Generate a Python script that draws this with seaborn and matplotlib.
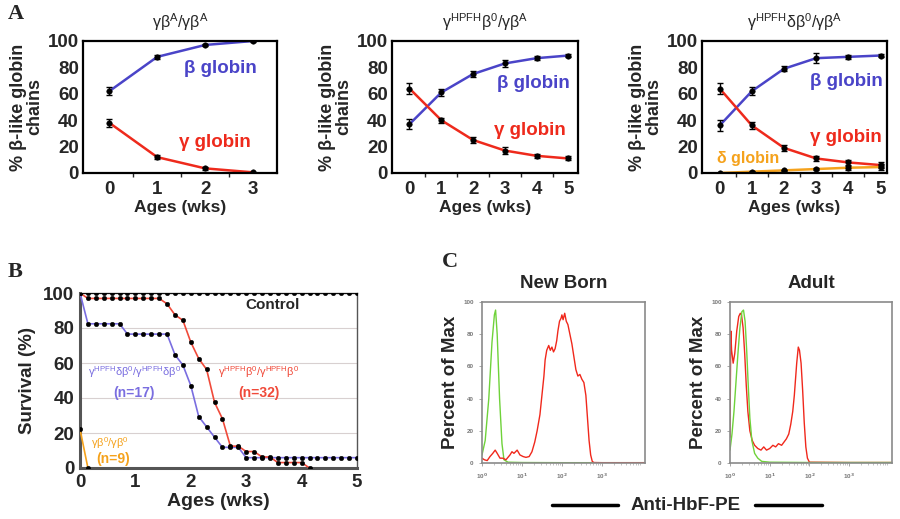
import matplotlib

matplotlib.use('Agg')
import matplotlib.pyplot as plt
import seaborn as sns

sns.set_style('white')
plt.rcParams['font.family'] = ['Liberation Sans', 'DejaVu Sans']
plt.rcParams['font.weight'] = 'bold'
plt.rcParams['axes.labelweight'] = 'bold'

# ---- panel A: % beta-like globin chains by age ----
weeks = [0, 1, 2, 3, 4, 5]
a1_beta = [62, 88, 97, 100]
a1_beta_err = [3, 1.5, 1, 0.5]
a1_gamma = [38, 12, 3.5, 0.5]
a1_gamma_err = [3, 1.5, 1, 0.5]

a2_beta = [37, 61, 75, 83, 87, 89]
a2_beta_err = [4, 3, 2.5, 2.5, 1.5, 1.5]
a2_gamma = [64, 40, 25, 17, 13, 11]
a2_gamma_err = [4, 2, 2.5, 2.5, 1.5, 1.5]

a3_beta = [36, 62, 79, 87, 88, 89]
a3_beta_err = [4, 3, 2, 4, 1.5, 1.5]
a3_gamma = [64, 36, 19, 11, 8, 6]
a3_gamma_err = [4, 3, 2, 2, 2, 2.5]
a3_delta = [0, 1, 2, 3, 4, 4.5]
a3_delta_err = [0.3, 0.5, 0.5, 1, 1.5, 2]

# ---- panel B: survival by day ----
control_days = [0, 1, 2, 3, 4, 5, 6, 7, 8, 9, 10, 11, 12, 13, 14, 15, 16, 17,
                18, 19, 20, 21, 22, 23, 24, 25, 26, 27, 28, 29, 30, 31, 32, 33, 34, 35]
control_surv = [100, 100, 100, 100, 100, 100, 100, 100, 100, 100, 100, 100,
                100, 100, 100, 100, 100, 100, 100, 100, 100, 100, 100, 100,
                100, 100, 100, 100, 100, 100, 100, 100, 100, 100, 100, 100]
hpfh_b0_days = [0, 1, 2, 3, 4, 5, 6, 7, 8, 9, 10, 11, 12, 13, 14, 15, 16, 17,
                18, 19, 20, 21, 22, 23, 24, 25, 26, 27, 28, 29]
hpfh_b0_surv = [100, 96.9, 96.9, 96.9, 96.9, 96.9, 96.9, 96.9, 96.9, 96.9, 96.9,
                93.8, 87.5, 84.4, 71.9, 62.5, 56.3, 37.5, 28.1, 12.5, 12.5,
                9.4, 9.4, 6.3, 6.3, 3.1, 3.1, 3.1, 3.1, 0]
hpfh_db0_days = control_days
hpfh_db0_surv = [100, 82.4, 82.4, 82.4, 82.4, 82.4, 76.5, 76.5, 76.5, 76.5, 76.5,
                 76.5, 64.7, 58.8, 47.1, 29.4, 23.5, 17.6, 11.8, 11.8, 11.8,
                 5.9, 5.9, 5.9, 5.9, 5.9, 5.9, 5.9, 5.9, 5.9, 5.9, 5.9, 5.9,
                 5.9, 5.9, 5.9]
b0_days = [0, 1]
b0_surv = [22.2, 0]

# ---- panel C: flow histograms (log10 fluorescence, percent of max) ----
nb_green_log = [0.0, 0.08, 0.17, 0.25, 0.31, 0.34, 0.38, 0.44, 0.5, 0.55, 0.65, 1.0, 2.0, 3.0, 4.08]
nb_green_pct = [5, 14, 40, 75, 92, 95, 80, 40, 12, 2, 0.5, 0.3, 0.2, 0.2, 0.2]
nb_red_log = [0.0, 0.06, 0.13, 0.2, 0.27, 0.33, 0.38, 0.45, 0.52, 0.6, 0.7, 0.75, 0.8,
              0.88, 0.95, 1.03, 1.1, 1.18, 1.25, 1.32, 1.38, 1.45, 1.5, 1.55, 1.58,
              1.62, 1.67, 1.71, 1.75, 1.79, 1.83, 1.87, 1.9, 1.94, 1.98, 2.0, 2.03,
              2.07, 2.11, 2.15, 2.2, 2.25, 2.3, 2.35, 2.4, 2.45, 2.5, 2.55, 2.6,
              2.64, 2.68, 2.72, 2.76, 2.8, 3.0, 4.08]
nb_red_pct = [3, 2, 1.5, 4, 6, 8, 6, 3, 3, 2, 5, 7, 6, 8, 5, 4, 3.5, 4, 7, 13, 20,
              30, 42, 54, 64, 70, 73, 70, 72, 69, 71, 76, 82, 88, 90, 92, 89, 93,
              88, 86, 80, 74, 66, 58, 54, 55, 52, 50, 42, 28, 14, 5, 1, 0.3, 0.2, 0.2]
ad_green_log = [0.0, 0.05, 0.1, 0.15, 0.2, 0.25, 0.3, 0.34, 0.38, 0.42, 0.46, 0.5,
                0.55, 0.62, 0.7, 0.8, 1.0, 2.0, 3.0, 4.08]
ad_green_pct = [8, 18, 32, 50, 68, 84, 94, 95, 88, 70, 48, 28, 14, 6, 3, 1, 0.5, 0.3, 0.3, 0.3]
ad_red_log = [0.0, 0.01, 0.02, 0.04, 0.08, 0.12, 0.17, 0.22, 0.26, 0.29, 0.33, 0.37,
              0.41, 0.45, 0.5, 0.56, 0.62, 0.7, 0.78, 0.85, 0.92, 1.0, 1.08, 1.15,
              1.22, 1.3, 1.36, 1.42, 1.48, 1.53, 1.58, 1.62, 1.65, 1.68, 1.72,
              1.75, 1.79, 1.83, 1.87, 1.91, 1.95, 2.0, 3.0, 4.08]
ad_red_pct = [16, 50, 82, 70, 62, 68, 82, 91, 93, 92, 84, 68, 48, 32, 20, 14, 11,
              9, 8, 10, 8, 9, 11, 10, 12, 11, 13, 15, 18, 24, 32, 42, 52, 62, 72,
              70, 62, 45, 25, 10, 3, 0.5, 0.3, 0.3]

BLUE_A = '#4a44c8'
RED_A = '#ee2a1c'
ORANGE = '#f5a21c'
BLUE_B = '#7a6ee0'
RED_B = '#f04a3a'

fig = plt.figure(figsize=(9, 5.19), dpi=100)


def add_ax(left, top, right, bottom):
    return fig.add_axes([left / 900, 1 - bottom / 519, (right - left) / 900, (bottom - top) / 519])


def globin_panel(box, title, xmax, curves, labels):
    ax = add_ax(*box)
    for vals, errs, color in curves:
        x = weeks[:len(vals)]
        sns.lineplot(x=x, y=vals, color=color, lw=1.8, ax=ax)
        ax.errorbar(x, vals, yerr=errs, fmt='none', ecolor='black', elinewidth=1,
                    capsize=2, capthick=1, zorder=4)
        sns.scatterplot(x=x, y=vals, color='black', s=16, edgecolor='black', ax=ax, zorder=5)
    for (tx, ty, txt, color, fs) in labels:
        ax.text(tx, ty, txt, color=color, fontsize=fs, fontweight='bold', ha='left', va='center')
    ax.set_xlim(-0.55, xmax)
    ax.set_ylim(0, 100)
    ax.set_xticks(weeks[:len(curves[0][0])])
    ax.set_xticks([w + 0.5 for w in weeks[:len(curves[0][0]) - 1]], minor=True)
    ax.set_yticks([0, 20, 40, 60, 80, 100])
    ax.tick_params(axis='x', which='major', length=0, pad=6, labelsize=13.5)
    ax.tick_params(axis='x', which='minor', length=3, width=1, direction='out', bottom=True)
    ax.tick_params(axis='y', length=0, pad=3, labelsize=13.5)
    for s in ax.spines.values():
        s.set_linewidth(1.6)
        s.set_color('black')
    ax.set_title(title, fontsize=11.5, fontweight='normal', pad=9)
    ax.set_xlabel('Ages (wks)', fontsize=12.5, labelpad=1)
    ax.set_ylabel('% β-like globin\nchains', fontsize=13, linespacing=0.95, labelpad=3)
    return ax


globin_panel((83, 41, 277, 173), 'γβ$^{\\mathregular{A}}$/γβ$^{\\mathregular{A}}$', 3.5,
             [(a1_beta, a1_beta_err, BLUE_A), (a1_gamma, a1_gamma_err, RED_A)],
             [(1.55, 79, 'β globin', BLUE_A, 13.5), (1.45, 23, 'γ globin', RED_A, 13.5)])
globin_panel((392, 41, 578, 173),
             'γ$^{\\mathregular{HPFH}}$β$^{\\mathregular{0}}$/γβ$^{\\mathregular{A}}$', 5.3,
             [(a2_beta, a2_beta_err, BLUE_A), (a2_gamma, a2_gamma_err, RED_A)],
             [(2.75, 68, 'β globin', BLUE_A, 13.5), (2.65, 32, 'γ globin', RED_A, 13.5)])
globin_panel((702, 41, 887, 173),
             'γ$^{\\mathregular{HPFH}}$δβ$^{\\mathregular{0}}$/γβ$^{\\mathregular{A}}$', 5.2,
             [(a3_beta, a3_beta_err, BLUE_A), (a3_gamma, a3_gamma_err, RED_A),
              (a3_delta, a3_delta_err, ORANGE)],
             [(2.8, 69, 'β globin', BLUE_A, 13.5), (2.8, 27, 'γ globin', RED_A, 13.5),
              (-0.08, 11, 'δ globin', ORANGE, 11.5)])

# ---- panel B ----
axb = add_ax(80, 293, 357, 468)
for days, surv, color in [(b0_days, b0_surv, ORANGE),
                          (hpfh_db0_days, hpfh_db0_surv, BLUE_B),
                          (hpfh_b0_days, hpfh_b0_surv, RED_B),
                          (control_days, control_surv, 'black')]:
    wk = [d / 7 for d in days]
    sns.lineplot(x=wk, y=surv, color=color, lw=1.2, ax=axb, zorder=3)
    sns.scatterplot(x=wk, y=surv, color='black', s=11, edgecolor='black', ax=axb, zorder=4)
axb.set_xlim(0, 5)
axb.set_ylim(0, 100)
axb.set_yticks([0, 20, 40, 60, 80, 100])
axb.set_xticks([0, 1, 2, 3, 4, 5])
axb.yaxis.grid(True, color='#d8d0d0', lw=0.8)
axb.tick_params(length=0, labelsize=13.5, pad=4)
for side, s in axb.spines.items():
    s.set_color('#555555')
    s.set_linewidth(2.2 if side in ('left', 'bottom') else 1.0)
axb.set_xlabel('Ages (wks)', fontsize=14, labelpad=2)
axb.set_ylabel('Survival (%)', fontsize=13.5, labelpad=5)
axb.text(2.98, 93, 'Control', fontsize=11, fontweight='bold', ha='left', va='center')
axb.text(0.15, 55, 'γ$^{\\mathregular{HPFH}}$δβ$^{\\mathregular{0}}$/γ$^{\\mathregular{HPFH}}$δβ$^{\\mathregular{0}}$',
         color=BLUE_B, fontsize=8, fontweight='normal', va='center')
axb.text(0.6, 43, '(n=17)', color=BLUE_B, fontsize=10, fontweight='bold', va='center')
axb.text(2.5, 55, 'γ$^{\\mathregular{HPFH}}$β$^{\\mathregular{0}}$/γ$^{\\mathregular{HPFH}}$β$^{\\mathregular{0}}$',
         color=RED_B, fontsize=8, fontweight='normal', va='center')
axb.text(2.85, 43, '(n=32)', color=RED_B, fontsize=10, fontweight='bold', va='center')
axb.text(0.2, 14, 'γβ$^{\\mathregular{0}}$/γβ$^{\\mathregular{0}}$', color=ORANGE, fontsize=8,
         fontweight='normal', va='center')
axb.text(0.3, 5, '(n=9)', color=ORANGE, fontsize=10, fontweight='bold', va='center')


# ---- panel C ----
def flow_panel(box, title, curves):
    ax = add_ax(*box)
    for logx, pct, color in curves:
        sns.lineplot(x=[10 ** v for v in logx], y=pct, color=color, lw=1.0, ax=ax)
    ax.set_xscale('log')
    ax.set_xlim(1, 10 ** 4.08)
    ax.set_ylim(0, 100)
    ax.set_xticks([1, 10, 100, 1000])
    ax.set_xticklabels(['10$^0$', '10$^1$', '10$^2$', '10$^3$'])
    ax.set_yticks([0, 20, 40, 60, 80, 100])
    ax.tick_params(axis='both', which='major', labelsize=4.5, labelcolor='#777777',
                   length=2.5, width=0.6, color='#999999', direction='out', bottom=True, left=True)
    ax.tick_params(axis='x', which='minor', length=1.5, width=0.5, color='#aaaaaa', bottom=True)
    for s in ax.spines.values():
        s.set_color('#8a8a8a')
        s.set_linewidth(1.2)
    ax.set_ylabel('Percent of Max', fontsize=13.5, labelpad=3)
    ax.set_title(title, fontsize=13.5, fontweight='bold', pad=10)
    return ax


flow_panel((482, 302, 645, 463), 'New Born',
           [(nb_green_log, nb_green_pct, '#6fd23a'), (nb_red_log, nb_red_pct, '#f0281c')])
flow_panel((730, 302, 892, 463), 'Adult',
           [(ad_red_log, ad_red_pct, '#f0281c'), (ad_green_log, ad_green_pct, '#6fd23a')])

fig.text(686 / 900, 1 - 505 / 519, 'Anti-HbF-PE', fontsize=13.5, fontweight='bold',
         ha='center', va='center')
fig.add_artist(plt.Line2D([552 / 900, 618 / 900], [1 - 505 / 519] * 2, color='black', lw=2.5))
fig.add_artist(plt.Line2D([755 / 900, 822 / 900], [1 - 505 / 519] * 2, color='black', lw=2.5))

# panel letters
for x, y, letter in [(8, 14, 'A'), (8, 272, 'B'), (442, 262, 'C')]:
    fig.text(x / 900, 1 - y / 519, letter, fontsize=16, fontweight='bold',
             family=['Liberation Serif', 'DejaVu Serif'], va='center', ha='left')

fig.savefig('out.png', dpi=100)
